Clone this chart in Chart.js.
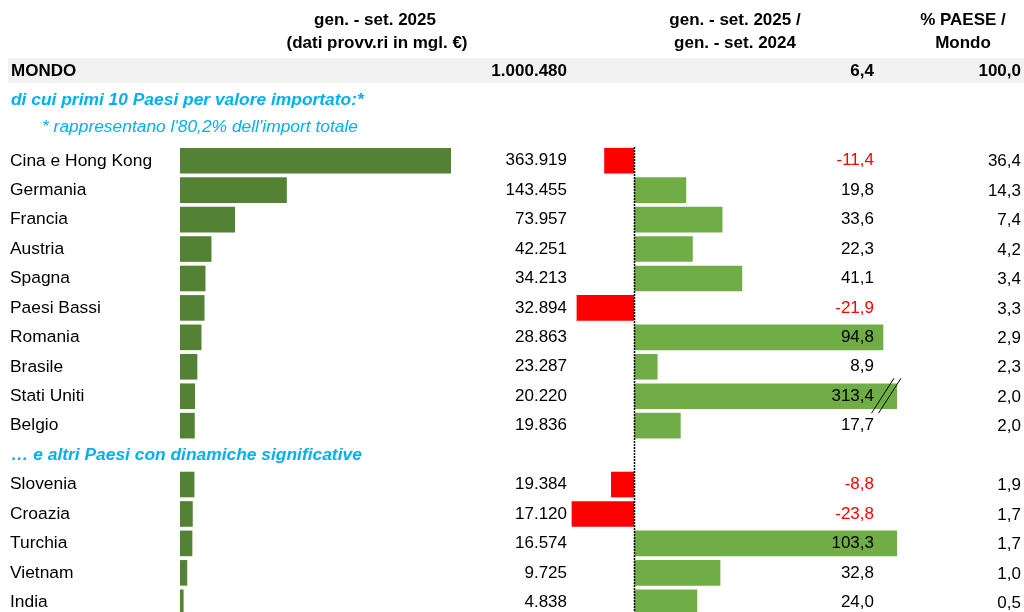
<!DOCTYPE html>
<html>
<head>
<meta charset="utf-8">
<script src="https://cdn.jsdelivr.net/npm/chart.js@4"></script>
<style>
  html, body { margin: 0; padding: 0; background: #fff; overflow: hidden; }
  #wrap { position: absolute; left: 0; top: 0; width: 1024px; height: 640px; }
</style>
</head>
<body>
<div id="wrap"><canvas id="chartImport"></canvas></div>
<script>
// --- data (empty slot = section header row) ---
const countries = ["Cina e Hong Kong", "Germania", "Francia", "Austria", "Spagna", "Paesi Bassi", "Romania", "Brasile", "Stati Uniti", "Belgio", "", "Slovenia", "Croazia", "Turchia", "Vietnam", "India"];
const values = [363919, 143455, 73957, 42251, 34213, 32894, 28863, 23287, 20220, 19836, null, 19384, 17120, 16574, 9725, 4838];
const changes = [-11.4, 19.8, 33.6, 22.3, 41.1, -21.9, 94.8, 8.9, 313.4, 17.7, null, -8.8, -23.8, 103.3, 32.8, 24.0];
const shares = [36.4, 14.3, 7.4, 4.2, 3.4, 3.3, 2.9, 2.3, 2.0, 2.0, null, 1.9, 1.7, 1.7, 1.0, 0.5];
const worldTotal = 1000480;
const worldChange = 6.4;
const worldShare = 100.0;

const FONT = "'Liberation Sans', Arial, sans-serif";
const CYAN = "#00b0f0";

function fmtInt(n) {
  return String(n).replace(/\B(?=(\d{3})+(?!\d))/g, ".");
}
function fmtDec(n) {
  return n.toFixed(1).replace(".", ",");
}

const textPlugin = {
  id: "tableText",
  beforeDatasetsDraw(chart) {
    const ctx = chart.ctx;
    // grey band for MONDO row
    ctx.save();
    ctx.fillStyle = "#f2f2f2";
    ctx.fillRect(8, 58, 1016, 25);
    ctx.restore();
  },
  afterDatasetsDraw(chart) {
    const ctx = chart.ctx;
    const y = chart.scales.y;
    const x2 = chart.scales.x2;
    const area = chart.chartArea;
    ctx.save();

    // zero line for variations
    const zx = Math.round(x2.getPixelForValue(0)) + 0.5;
    ctx.strokeStyle = "#000";
    ctx.lineWidth = 1.5;
    ctx.setLineDash([2, 1]);
    ctx.beginPath();
    ctx.moveTo(zx, area.top + 1);
    ctx.lineTo(zx, area.bottom);
    ctx.stroke();
    ctx.setLineDash([]);

    // headers
    ctx.fillStyle = "#000";
    ctx.textAlign = "center";
    ctx.textBaseline = "middle";
    ctx.font = "bold 17px " + FONT;
    ctx.fillText("gen. - set. 2025", 375, 20);
    ctx.fillText("(dati provv.ri in mgl. €)", 377, 43);
    ctx.fillText("gen. - set. 2025 /", 735, 20);
    ctx.fillText("gen. - set. 2024", 735, 43);
    ctx.fillText("% PAESE /", 963, 20);
    ctx.fillText("Mondo", 963, 43);

    // MONDO row
    ctx.textAlign = "left";
    ctx.fillText("MONDO", 11, 71);
    ctx.textAlign = "right";
    ctx.fillText(fmtInt(worldTotal), 567, 71);
    ctx.fillText(fmtDec(worldChange), 874, 71);
    ctx.fillText(fmtDec(worldShare), 1021, 71);

    // section notes
    ctx.fillStyle = CYAN;
    ctx.textAlign = "left";
    ctx.font = "italic bold 17.4px " + FONT;
    ctx.fillText("di cui primi 10 Paesi per valore importato:*", 11, 100);
    ctx.font = "italic 17.4px " + FONT;
    ctx.fillText("* rappresentano l'80,2% dell'import totale", 42, 127);
    ctx.font = "italic bold 17.4px " + FONT;
    ctx.fillText("… e altri Paesi con dinamiche significative", 11, y.getPixelForValue(10));

    // numbers per row
    ctx.font = "17px " + FONT;
    ctx.textAlign = "right";
    countries.forEach((c, i) => {
      if (values[i] === null) return;
      const py = y.getPixelForValue(i);
      ctx.fillStyle = "#000";
      ctx.fillText(fmtInt(values[i]), 567, py);
      ctx.fillStyle = changes[i] < 0 ? "#ff0000" : "#000";
      ctx.fillText(fmtDec(changes[i]), 874, py);
      ctx.fillStyle = "#000";
      ctx.fillText(fmtDec(shares[i]), 1021, py + 1);

      // axis break marks on bars beyond the scale
      if (changes[i] > x2.max && i < 10) {
        const ex = x2.getPixelForValue(x2.max);
        ctx.strokeStyle = "#000";
        ctx.lineWidth = 1;
        [-25, -18].forEach(off => {
          ctx.beginPath();
          ctx.moveTo(ex + off - 0.5, py + 17);
          ctx.lineTo(ex + off + 22, py - 18);
          ctx.stroke();
        });
      }
    });
    ctx.restore();
  }
};

document.addEventListener("DOMContentLoaded", () => {
  const canvas = document.getElementById("chartImport");
  new Chart(canvas.getContext("2d"), {
    type: "bar",
    data: {
      labels: countries,
      datasets: [{
        label: "Import (mgl. €)",
        data: values,
        xAxisID: "x1",
        backgroundColor: "#548235",
        grouped: false,
        categoryPercentage: 1,
        barPercentage: 0.87
      }, {
        label: "Variazione %",
        data: changes,
        xAxisID: "x2",
        backgroundColor: changes.map(v => v < 0 ? "#ff0000" : "#70ad47"),
        grouped: false,
        categoryPercentage: 1,
        barPercentage: 0.87
      }]
    },
    options: {
      indexAxis: "y",
      responsive: true,
      maintainAspectRatio: false,
      animation: false,
      layout: { padding: { left: 10, right: 127, top: 146, bottom: 23 } },
      plugins: {
        legend: { display: false },
        tooltip: { enabled: false }
      },
      scales: {
        y: {
          grid: { display: false },
          border: { display: false },
          afterFit: (scale) => { scale.width = 170; },
          ticks: {
            autoSkip: false,
            crossAlign: "far",
            color: "#000",
            font: { family: FONT, size: 17.4 }
          }
        },
        x1: {
          display: false,
          min: 0,
          max: 962800
        },
        x2: {
          display: false,
          min: -172.8,
          max: 100
        }
      }
    },
    plugins: [textPlugin]
  });
});
</script>
</body>
</html>
